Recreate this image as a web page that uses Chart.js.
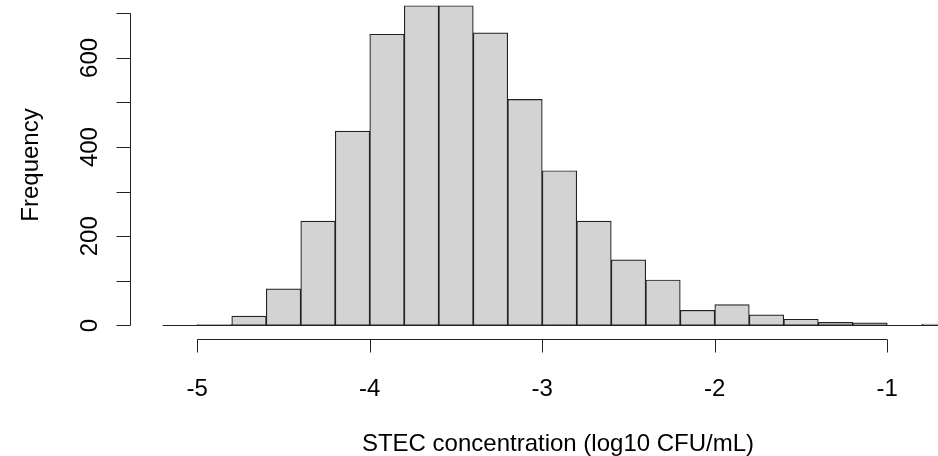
<!DOCTYPE html>
<html>
<head>
<meta charset="utf-8">
<script src="https://cdn.jsdelivr.net/npm/chart.js@4.4.1/dist/chart.umd.min.js"></script>
<style>
  html, body { margin: 0; padding: 0; background: #fff; }
</style>
</head>
<body>
<canvas id="hist" width="938" height="456"></canvas>
<script>
// Histogram of STEC concentration, bin edges every 0.2 log10 units
const breaks = [-5.2, -5.0, -4.8, -4.6, -4.4, -4.2, -4.0, -3.8, -3.6, -3.4, -3.2, -3.0,
                -2.8, -2.6, -2.4, -2.2, -2.0, -1.8, -1.6, -1.4, -1.2, -1.0, -0.8, -0.6];
const counts = [0, 2, 21, 82, 234, 436, 653, 717, 717, 656, 507, 347,
                234, 147, 102, 34, 47, 24, 14, 7, 6, 0, 3];

const xTicks = [-5, -4, -3, -2, -1];
const yTicks = [0, 100, 200, 300, 400, 500, 600, 700];
const yTickLabels = [0, 200, 400, 600];

const xTitle = 'STEC concentration (log10 CFU/mL)';
const yTitle = 'Frequency';

const points = counts.map((c, i) => ({ x: (breaks[i] + breaks[i + 1]) / 2, y: c }));

const FONT = '24px "Liberation Sans", Arial, sans-serif';

// R-style axes drawn from the chart scales
const rAxes = {
    id: 'rAxes',
    afterDatasetsDraw(chart) {
        const ctx = chart.ctx;
        const xs = chart.scales.x;
        const ys = chart.scales.y;
        const area = chart.chartArea;
        ctx.save();
        ctx.strokeStyle = '#222';
        ctx.fillStyle = '#000';
        ctx.lineWidth = 1;

        // baseline of the bins (zero-height bars in R still show an edge)
        const y0 = Math.round(ys.getPixelForValue(0)) + 0.5;
        ctx.beginPath();
        ctx.moveTo(xs.getPixelForValue(breaks[0]), y0);
        ctx.lineTo(xs.getPixelForValue(breaks[breaks.length - 1]), y0);
        ctx.stroke();

        // x axis
        const ax = area.bottom + 0.5;
        ctx.beginPath();
        ctx.moveTo(xs.getPixelForValue(xTicks[0]), ax);
        ctx.lineTo(xs.getPixelForValue(xTicks[xTicks.length - 1]), ax);
        xTicks.forEach(t => {
            const px = Math.round(xs.getPixelForValue(t)) + 0.5;
            ctx.moveTo(px, ax);
            ctx.lineTo(px, ax + 13);
        });
        ctx.stroke();

        ctx.font = FONT;
        ctx.textAlign = 'center';
        ctx.textBaseline = 'alphabetic';
        xTicks.forEach(t => {
            ctx.fillText(String(t), xs.getPixelForValue(t), 396);
        });
        // title centred on the full R plot region
        ctx.fillText(xTitle, 558, 451);

        // y axis
        const ay = area.left - 0.5;
        ctx.beginPath();
        ctx.moveTo(ay, ys.getPixelForValue(yTicks[0]));
        ctx.lineTo(ay, ys.getPixelForValue(yTicks[yTicks.length - 1]));
        yTicks.forEach(t => {
            const py = Math.round(ys.getPixelForValue(t)) + 0.5;
            ctx.moveTo(ay, py);
            ctx.lineTo(ay - 14, py);
        });
        ctx.stroke();

        yTickLabels.forEach(t => {
            ctx.save();
            ctx.translate(97, ys.getPixelForValue(t));
            ctx.rotate(-Math.PI / 2);
            ctx.fillText(String(t), 0, 0);
            ctx.restore();
        });

        ctx.save();
        ctx.translate(37.5, 165);
        ctx.rotate(-Math.PI / 2);
        ctx.fillText(yTitle, 0, 0);
        ctx.restore();

        ctx.restore();
    }
};

new Chart(document.getElementById('hist'), {
    type: 'bar',
    data: {
        datasets: [{
            label: 'Frequency',
            data: points,
            backgroundColor: '#d3d3d3',
            borderColor: '#222',
            borderWidth: 1.2,
            borderSkipped: false,
            barPercentage: 1,
            categoryPercentage: 1
        }]
    },
    options: {
        responsive: false,
        animation: false,
        layout: {
            padding: { left: 131, right: 0, top: 0, bottom: 117 }
        },
        scales: {
            x: { type: 'linear', offset: false, min: -5.384, max: -0.706, display: false },
            y: { type: 'linear', min: -30.3, max: 729.8, display: false }
        },
        plugins: {
            legend: { display: false },
            tooltip: { enabled: false }
        }
    },
    plugins: [rAxes]
});
</script>
</body>
</html>
